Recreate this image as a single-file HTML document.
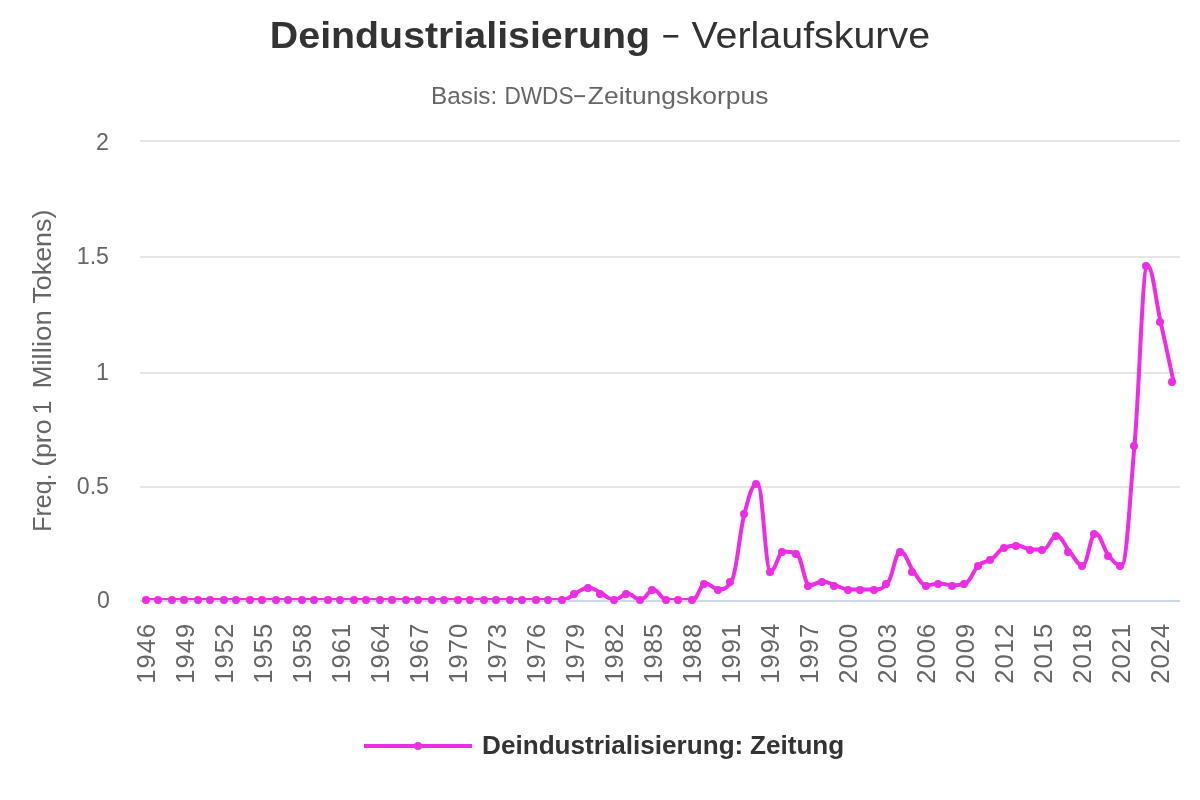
<!DOCTYPE html>
<html><head><meta charset="utf-8"><title>Deindustrialisierung – Verlaufskurve</title>
<style>
html,body{margin:0;padding:0;background:#fff;}
svg{display:block;font-family:"Liberation Sans",sans-serif;}
</style></head><body>
<svg width="1200" height="800" viewBox="0 0 1200 800">
<rect width="1200" height="800" fill="#fff"/>
<defs><clipPath id="cp"><rect x="140" y="140" width="1040" height="460"/></clipPath></defs>
<g id="txt" opacity="0.999">
<!-- title -->
<text x="269.87" y="47.50" font-size="37.5" font-weight="bold" fill="#333" textLength="380.26" lengthAdjust="spacingAndGlyphs">Deindustrialisierung</text><rect x="663.3" y="35" width="15" height="2.6" fill="#333"/><text x="691.53" y="47.50" font-size="37.5" fill="#333" textLength="238.52" lengthAdjust="spacingAndGlyphs">Verlaufskurve</text><text x="431.01" y="103.80" font-size="24.5" fill="#666" textLength="66.21" lengthAdjust="spacingAndGlyphs">Basis:</text><text x="504.44" y="103.80" font-size="24.5" fill="#666" textLength="69.09" lengthAdjust="spacingAndGlyphs">DWDS</text><rect x="574.2" y="95.2" width="10.8" height="1.9" fill="#666"/><text x="587.86" y="103.80" font-size="24.5" fill="#666" textLength="180.59" lengthAdjust="spacingAndGlyphs">Zeitungskorpus</text>
<!-- grid -->
<rect x="140" y="140" width="1040" height="2" fill="#e6e6e6"/><rect x="140" y="256" width="1040" height="2" fill="#e6e6e6"/><rect x="140" y="372" width="1040" height="2" fill="#e6e6e6"/><rect x="140" y="486" width="1040" height="2" fill="#e6e6e6"/>
<rect x="140" y="600" width="1040" height="2" fill="#ccd6eb"/>
<!-- y axis title -->
<text transform="translate(51.00,0) rotate(-90)" x="-531.85" y="0" font-size="25" fill="#666" textLength="58.33" lengthAdjust="spacingAndGlyphs">Freq.</text><text transform="translate(51.00,0) rotate(-90)" x="-466.85" y="0" font-size="25" fill="#666" textLength="47.37" lengthAdjust="spacingAndGlyphs">(pro</text><text transform="translate(51.00,0) rotate(-90)" x="-414.37" y="0" font-size="25" fill="#666" textLength="13.67" lengthAdjust="spacingAndGlyphs">1</text><text transform="translate(51.00,0) rotate(-90)" x="-388.57" y="0" font-size="25" fill="#666" textLength="78.36" lengthAdjust="spacingAndGlyphs">Million</text><text transform="translate(51.00,0) rotate(-90)" x="-303.60" y="0" font-size="25" fill="#666" textLength="94.02" lengthAdjust="spacingAndGlyphs">Tokens)</text>
<!-- y labels -->
<text x="109" y="150" text-anchor="end" font-size="23.2" fill="#666">2</text><text x="109" y="264" text-anchor="end" font-size="23.2" fill="#666">1.5</text><text x="109" y="380" text-anchor="end" font-size="23.2" fill="#666">1</text><text x="109" y="494" text-anchor="end" font-size="23.2" fill="#666">0.5</text><text x="109.8" y="608.3" text-anchor="end" font-size="23.2" fill="#666">0</text>
<!-- x labels -->
<text transform="translate(155.2,622.6) rotate(-90)" text-anchor="end" font-size="25.6" letter-spacing="1.04" fill="#666">1946</text><text transform="translate(194.2,622.6) rotate(-90)" text-anchor="end" font-size="25.6" letter-spacing="1.04" fill="#666">1949</text><text transform="translate(233.2,622.6) rotate(-90)" text-anchor="end" font-size="25.6" letter-spacing="1.04" fill="#666">1952</text><text transform="translate(272.2,622.6) rotate(-90)" text-anchor="end" font-size="25.6" letter-spacing="1.04" fill="#666">1955</text><text transform="translate(311.2,622.6) rotate(-90)" text-anchor="end" font-size="25.6" letter-spacing="1.04" fill="#666">1958</text><text transform="translate(350.2,622.6) rotate(-90)" text-anchor="end" font-size="25.6" letter-spacing="1.04" fill="#666">1961</text><text transform="translate(389.2,622.6) rotate(-90)" text-anchor="end" font-size="25.6" letter-spacing="1.04" fill="#666">1964</text><text transform="translate(428.2,622.6) rotate(-90)" text-anchor="end" font-size="25.6" letter-spacing="1.04" fill="#666">1967</text><text transform="translate(467.2,622.6) rotate(-90)" text-anchor="end" font-size="25.6" letter-spacing="1.04" fill="#666">1970</text><text transform="translate(506.2,622.6) rotate(-90)" text-anchor="end" font-size="25.6" letter-spacing="1.04" fill="#666">1973</text><text transform="translate(545.2,622.6) rotate(-90)" text-anchor="end" font-size="25.6" letter-spacing="1.04" fill="#666">1976</text><text transform="translate(584.2,622.6) rotate(-90)" text-anchor="end" font-size="25.6" letter-spacing="1.04" fill="#666">1979</text><text transform="translate(623.2,622.6) rotate(-90)" text-anchor="end" font-size="25.6" letter-spacing="1.04" fill="#666">1982</text><text transform="translate(662.2,622.6) rotate(-90)" text-anchor="end" font-size="25.6" letter-spacing="1.04" fill="#666">1985</text><text transform="translate(701.2,622.6) rotate(-90)" text-anchor="end" font-size="25.6" letter-spacing="1.04" fill="#666">1988</text><text transform="translate(740.2,622.6) rotate(-90)" text-anchor="end" font-size="25.6" letter-spacing="1.04" fill="#666">1991</text><text transform="translate(779.2,622.6) rotate(-90)" text-anchor="end" font-size="25.6" letter-spacing="1.04" fill="#666">1994</text><text transform="translate(818.2,622.6) rotate(-90)" text-anchor="end" font-size="25.6" letter-spacing="1.04" fill="#666">1997</text><text transform="translate(857.2,622.6) rotate(-90)" text-anchor="end" font-size="25.6" letter-spacing="1.04" fill="#666">2000</text><text transform="translate(896.2,622.6) rotate(-90)" text-anchor="end" font-size="25.6" letter-spacing="1.04" fill="#666">2003</text><text transform="translate(935.2,622.6) rotate(-90)" text-anchor="end" font-size="25.6" letter-spacing="1.04" fill="#666">2006</text><text transform="translate(974.2,622.6) rotate(-90)" text-anchor="end" font-size="25.6" letter-spacing="1.04" fill="#666">2009</text><text transform="translate(1013.2,622.6) rotate(-90)" text-anchor="end" font-size="25.6" letter-spacing="1.04" fill="#666">2012</text><text transform="translate(1052.2,622.6) rotate(-90)" text-anchor="end" font-size="25.6" letter-spacing="1.04" fill="#666">2015</text><text transform="translate(1091.2,622.6) rotate(-90)" text-anchor="end" font-size="25.6" letter-spacing="1.04" fill="#666">2018</text><text transform="translate(1130.2,622.6) rotate(-90)" text-anchor="end" font-size="25.6" letter-spacing="1.04" fill="#666">2021</text><text transform="translate(1169.2,622.6) rotate(-90)" text-anchor="end" font-size="25.6" letter-spacing="1.04" fill="#666">2024</text>
<text x="482.05" y="753.80" font-size="25" font-weight="bold" fill="#333" textLength="261.26" lengthAdjust="spacingAndGlyphs">Deindustrialisierung:</text><text x="750.02" y="753.80" font-size="25" font-weight="bold" fill="#333" textLength="94.22" lengthAdjust="spacingAndGlyphs">Zeitung</text>
</g>
<!-- series -->
<g clip-path="url(#cp)"><path d="M146.50 600.00C146.50 600.00 154.30 600.00 159.50 600.00C164.70 600.00 167.30 600.00 172.50 600.00C177.70 600.00 180.30 600.00 185.50 600.00C190.70 600.00 193.30 600.00 198.50 600.00C203.70 600.00 206.30 600.00 211.50 600.00C216.70 600.00 219.30 600.00 224.50 600.00C229.70 600.00 232.30 600.00 237.50 600.00C242.70 600.00 245.30 600.00 250.50 600.00C255.70 600.00 258.30 600.00 263.50 600.00C268.70 600.00 271.30 600.00 276.50 600.00C281.70 600.00 284.30 600.00 289.50 600.00C294.70 600.00 297.30 600.00 302.50 600.00C307.70 600.00 310.30 600.00 315.50 600.00C320.70 600.00 323.30 600.00 328.50 600.00C333.70 600.00 336.30 600.00 341.50 600.00C346.70 600.00 349.30 600.00 354.50 600.00C359.70 600.00 362.30 600.00 367.50 600.00C372.70 600.00 375.30 600.00 380.50 600.00C385.70 600.00 388.30 600.00 393.50 600.00C398.70 600.00 401.30 600.00 406.50 600.00C411.70 600.00 414.30 600.00 419.50 600.00C424.70 600.00 427.30 600.00 432.50 600.00C437.70 600.00 440.30 600.00 445.50 600.00C450.70 600.00 453.30 600.00 458.50 600.00C463.70 600.00 466.30 600.00 471.50 600.00C476.70 600.00 479.30 600.00 484.50 600.00C489.70 600.00 492.30 600.00 497.50 600.00C502.70 600.00 505.30 600.00 510.50 600.00C515.70 600.00 518.30 600.00 523.50 600.00C528.70 600.00 531.30 600.00 536.50 600.00C541.70 600.00 544.30 600.00 549.50 600.00C554.70 600.00 557.30 600.00 562.50 600.00C567.70 600.00 570.30 595.92 575.50 593.40C580.70 590.88 583.30 587.40 588.50 587.40C593.70 587.40 596.30 590.88 601.50 593.40C606.70 595.92 609.30 600.00 614.50 600.00C619.70 600.00 622.30 593.40 627.50 593.40C632.70 593.40 635.30 600.00 640.50 600.00C645.70 600.00 648.30 589.40 653.50 589.40C658.70 589.40 661.30 600.00 666.50 600.00C671.70 600.00 674.30 600.00 679.50 600.00C684.70 600.00 687.30 600.00 692.50 600.00C697.70 600.00 700.30 583.40 705.50 583.40C710.70 583.40 713.30 589.40 718.50 589.40C723.70 589.40 726.30 589.40 731.50 581.40C736.70 573.40 739.30 533.00 744.50 513.40C749.70 493.80 752.30 483.40 757.50 483.40C762.70 483.40 765.30 571.40 770.50 571.40C775.70 571.40 778.30 551.40 783.50 551.40C788.70 551.40 791.30 551.40 796.50 553.40C801.70 555.40 804.30 585.40 809.50 585.40C814.70 585.40 817.30 581.40 822.50 581.40C827.70 581.40 830.30 583.80 835.50 585.40C840.70 587.00 843.30 589.40 848.50 589.40C853.70 589.40 856.30 589.40 861.50 589.40C866.70 589.40 869.30 589.40 874.50 589.40C879.70 589.40 882.30 589.40 887.50 583.40C892.70 577.40 895.30 551.40 900.50 551.40C905.70 551.40 908.30 564.60 913.50 571.40C918.70 578.20 921.30 585.40 926.50 585.40C931.70 585.40 934.30 583.40 939.50 583.40C944.70 583.40 947.30 585.40 952.50 585.40C957.70 585.40 960.30 585.40 965.50 583.40C970.70 581.40 973.30 570.20 978.50 565.40C983.70 560.60 986.30 563.00 991.50 559.40C996.70 555.80 999.30 549.40 1004.50 547.40C1009.70 545.40 1012.30 545.40 1017.50 545.40C1022.70 545.40 1025.30 549.40 1030.50 549.40C1035.70 549.40 1038.30 549.40 1043.50 549.40C1048.70 549.40 1051.30 535.40 1056.50 535.40C1061.70 535.40 1064.30 545.40 1069.50 551.40C1074.70 557.40 1077.30 565.40 1082.50 565.40C1087.70 565.40 1090.30 533.40 1095.50 533.40C1100.70 533.40 1103.30 549.00 1108.50 555.40C1113.70 561.80 1116.30 565.40 1121.50 565.40C1126.70 565.40 1129.30 505.40 1134.50 445.40C1139.70 385.40 1142.30 265.40 1147.50 265.40C1152.70 265.40 1155.30 298.20 1160.50 321.40C1165.70 344.60 1173.50 381.40 1173.50 381.40" fill="none" stroke="#ed2de4" stroke-width="4" stroke-linejoin="round" stroke-linecap="round"/></g>
<g fill="#ed2de4"><circle cx="146" cy="600" r="4"/><circle cx="158" cy="600" r="4"/><circle cx="172" cy="600" r="4"/><circle cx="184" cy="600" r="4"/><circle cx="198" cy="600" r="4"/><circle cx="210" cy="600" r="4"/><circle cx="224" cy="600" r="4"/><circle cx="236" cy="600" r="4"/><circle cx="250" cy="600" r="4"/><circle cx="262" cy="600" r="4"/><circle cx="276" cy="600" r="4"/><circle cx="288" cy="600" r="4"/><circle cx="302" cy="600" r="4"/><circle cx="314" cy="600" r="4"/><circle cx="328" cy="600" r="4"/><circle cx="340" cy="600" r="4"/><circle cx="354" cy="600" r="4"/><circle cx="366" cy="600" r="4"/><circle cx="380" cy="600" r="4"/><circle cx="392" cy="600" r="4"/><circle cx="406" cy="600" r="4"/><circle cx="418" cy="600" r="4"/><circle cx="432" cy="600" r="4"/><circle cx="444" cy="600" r="4"/><circle cx="458" cy="600" r="4"/><circle cx="470" cy="600" r="4"/><circle cx="484" cy="600" r="4"/><circle cx="496" cy="600" r="4"/><circle cx="510" cy="600" r="4"/><circle cx="522" cy="600" r="4"/><circle cx="536" cy="600" r="4"/><circle cx="548" cy="600" r="4"/><circle cx="562" cy="600" r="4"/><circle cx="574" cy="594" r="4"/><circle cx="588" cy="588" r="4"/><circle cx="600" cy="594" r="4"/><circle cx="614" cy="600" r="4"/><circle cx="626" cy="594" r="4"/><circle cx="640" cy="600" r="4"/><circle cx="652" cy="590" r="4"/><circle cx="666" cy="600" r="4"/><circle cx="678" cy="600" r="4"/><circle cx="692" cy="600" r="4"/><circle cx="704" cy="584" r="4"/><circle cx="718" cy="590" r="4"/><circle cx="730" cy="582" r="4"/><circle cx="744" cy="514" r="4"/><circle cx="756" cy="484" r="4"/><circle cx="770" cy="572" r="4"/><circle cx="782" cy="552" r="4"/><circle cx="796" cy="554" r="4"/><circle cx="808" cy="586" r="4"/><circle cx="822" cy="582" r="4"/><circle cx="834" cy="586" r="4"/><circle cx="848" cy="590" r="4"/><circle cx="860" cy="590" r="4"/><circle cx="874" cy="590" r="4"/><circle cx="886" cy="584" r="4"/><circle cx="900" cy="552" r="4"/><circle cx="912" cy="572" r="4"/><circle cx="926" cy="586" r="4"/><circle cx="938" cy="584" r="4"/><circle cx="952" cy="586" r="4"/><circle cx="964" cy="584" r="4"/><circle cx="978" cy="566" r="4"/><circle cx="990" cy="560" r="4"/><circle cx="1004" cy="548" r="4"/><circle cx="1016" cy="546" r="4"/><circle cx="1030" cy="550" r="4"/><circle cx="1042" cy="550" r="4"/><circle cx="1056" cy="536" r="4"/><circle cx="1068" cy="552" r="4"/><circle cx="1082" cy="566" r="4"/><circle cx="1094" cy="534" r="4"/><circle cx="1108" cy="556" r="4"/><circle cx="1120" cy="566" r="4"/><circle cx="1134" cy="446" r="4"/><circle cx="1146" cy="266" r="4"/><circle cx="1160" cy="322" r="4"/><circle cx="1172" cy="382" r="4"/></g>
<!-- legend -->
<rect x="364" y="744" width="108" height="4" fill="#ed2de4"/>
<circle cx="418" cy="746" r="4" fill="#ed2de4"/>
</svg>
</body></html>
